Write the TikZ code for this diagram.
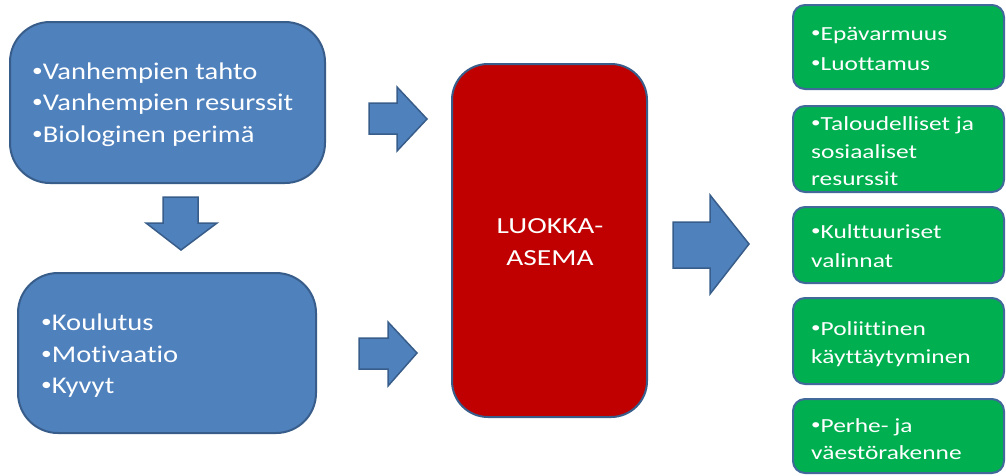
\documentclass[tikz,border=0pt]{standalone}
\usepackage{fontspec}
\usepackage{graphicx}
\setmainfont{Carlito}[Ligatures={NoCommon}]
\newfontfamily\bfam{Carlito}[FakeStretch=1.19,Ligatures={NoCommon}]
\newfontfamily\gfam{Carlito}[FakeStretch=1.27,Ligatures={NoCommon}]
\newfontfamily\rfam{Carlito}[FakeStretch=1.28,Ligatures={NoCommon}]
\newcommand{\bul}{\raisebox{0.12em}{\scalebox{0.75}{•}}}
\definecolor{bfill}{HTML}{4F81BD}
\definecolor{bline}{HTML}{385D8A}
\definecolor{rfill}{HTML}{C00000}
\definecolor{gfill}{HTML}{00B050}
\definecolor{gline}{HTML}{41699A}
\tikzset{
  bluebox/.style={draw=bline, fill=bfill, line width=2pt, rounded corners=40pt, inner sep=0pt},
  redbox/.style={draw=bline, fill=rfill, line width=2pt, rounded corners=36pt, inner sep=0pt},
  greenbox/.style={draw=gline, fill=gfill, line width=2pt, rounded corners=12pt, inner sep=0pt, minimum width=211pt},
  blockarrow/.style={draw=bline, fill=bfill, line width=1.5pt, line join=miter},
  btext/.style={anchor=base west, inner sep=0pt, text=white, font=\bfam\fontsize{24}{29}\selectfont},
  gtext/.style={anchor=base west, inner sep=0pt, text=white, font=\gfam\fontsize{20}{24}\selectfont},
  rtext/.style={anchor=base, inner sep=0pt, text=white, font=\rfam\fontsize{23}{28}\selectfont},
}
\begin{document}
\begin{tikzpicture}[x=1pt,y=-1pt]
\useasboundingbox (0,0) rectangle (1006,475);
\clip (0,0) rectangle (1006,475);
% blue boxes
\node[bluebox, minimum width=315pt, minimum height=161pt] (b1) at (167.5,102.5) {};
\node[btext] (b1a) at (32,79) {\bul Vanhempien tahto};
\node[btext] (b1b) at (32,110) {\bul Vanhempien resurssit};
\node[btext] (b1c) at (32,142) {\bul Biologinen perimä};
\node[bluebox, minimum width=298pt, minimum height=160pt] (b2) at (167,353) {};
\node[btext] (b2a) at (41,330) {\bul Koulutus};
\node[btext] (b2b) at (41,362) {\bul Motivaatio};
\node[btext] (b2c) at (41,393) {\bul Kyvyt};
% red box
\node[redbox, minimum width=195pt, minimum height=353pt] (r) at (549.5,240.5) {};
\node[rtext] (ra) at (550,233) {LUOKKA-};
\node[rtext] (rb) at (550,265) {ASEMA};
% green boxes
\node[greenbox, minimum height=84pt] (g1) at (898.5,47) {};
\node[gtext] (g1a) at (811,40) {\bul Epävarmuus};
\node[gtext] (g1b) at (811,70) {\bul Luottamus};
\node[greenbox, minimum height=86pt] (g2) at (898.5,149) {};
\node[gtext] (g2a) at (811,130) {\bul Taloudelliset ja};
\node[gtext] (g2b) at (811,158) {sosiaaliset};
\node[gtext] (g2c) at (811,185) {resurssit};
\node[greenbox, minimum height=76pt] (g3) at (898.5,245) {};
\node[gtext] (g3a) at (811,238) {\bul Kulttuuriset};
\node[gtext] (g3b) at (811,267) {valinnat};
\node[greenbox, minimum height=86pt] (g4) at (898.5,341) {};
\node[gtext] (g4a) at (811,335) {\bul Poliittinen};
\node[gtext] (g4b) at (811,363) {käyttäytyminen};
\node[greenbox, minimum height=74pt] (g5) at (898.5,436) {};
\node[gtext] (g5a) at (811,432) {\bul Perhe- ja};
\node[gtext] (g5b) at (811,459) {väestörakenne};
% block arrows
\draw[blockarrow] (163,197) -- (198,197) -- (198,223) -- (217,223) -- (181,250) -- (146,223) -- (163,223) -- cycle;
\draw[blockarrow] (369,103) -- (397,103) -- (397,87) -- (427,119) -- (397,151) -- (397,134) -- (369,134) -- cycle;
\draw[blockarrow] (359,338) -- (388,338) -- (388,322) -- (417,353) -- (388,386) -- (388,369) -- (359,369) -- cycle;
\draw[blockarrow] (673,222) -- (710,222) -- (710,195) -- (749,244) -- (710,294) -- (710,268) -- (673,268) -- cycle;
\end{tikzpicture}
\end{document}
